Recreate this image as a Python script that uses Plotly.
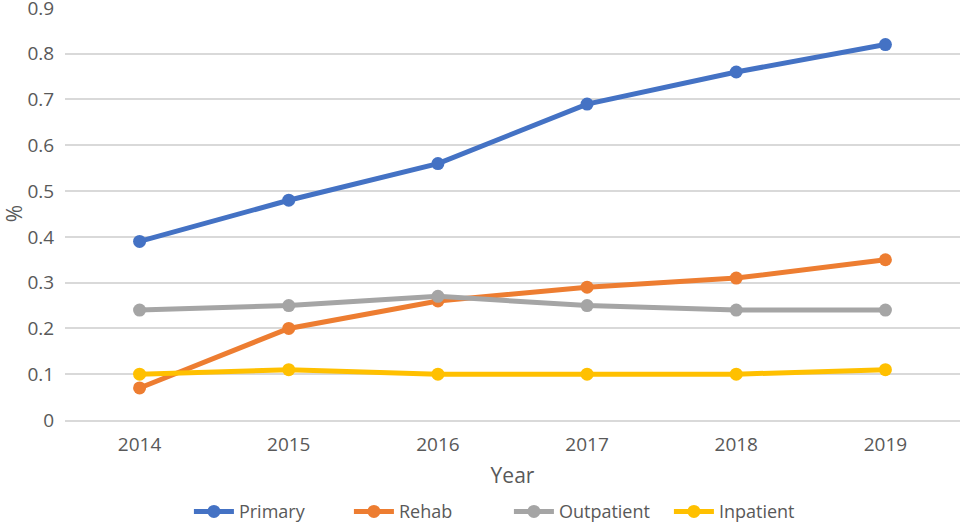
import plotly.graph_objects as go

years = [2014, 2015, 2016, 2017, 2018, 2019]
primary = [0.39, 0.48, 0.56, 0.69, 0.76, 0.82]
rehab = [0.07, 0.20, 0.26, 0.29, 0.31, 0.35]
outpatient = [0.24, 0.25, 0.27, 0.25, 0.24, 0.24]
inpatient = [0.10, 0.11, 0.10, 0.10, 0.10, 0.11]
y_ticks = [0, 0.1, 0.2, 0.3, 0.4, 0.5, 0.6, 0.7, 0.8, 0.9]
y_labels = ["0", "0.1", "0.2", "0.3", "0.4", "0.5", "0.6", "0.7", "0.8", "0.9"]

series = [("Primary", primary, "#4472C4"),
          ("Rehab", rehab, "#ED7D31"),
          ("Outpatient", outpatient, "#A5A5A5"),
          ("Inpatient", inpatient, "#FFC000")]

fig = go.Figure()
for name, vals, col in series:
    fig.add_trace(go.Scatter(x=years, y=vals, name=name, mode="lines+markers",
                             line=dict(color=col, width=5),
                             marker=dict(color=col, size=13), cliponaxis=False))

font = "Open Sans, Noto Sans, sans-serif"
fig.update_layout(
    width=963, height=523,
    margin=dict(l=65, r=3, t=7, b=103, autoexpand=False),
    plot_bgcolor="white", paper_bgcolor="white",
    font=dict(family=font, size=19, color="#595959"),
    showlegend=True,
    legend=dict(orientation="h", x=0.496, xanchor="center", y=-0.222, yanchor="middle",
                font=dict(size=18, color="#595959"), traceorder="normal", itemwidth=40,
                entrywidth=105, entrywidthmode="pixels"),
    xaxis=dict(range=[2013.5, 2019.5], tickvals=years, ticktext=[str(y) for y in years],
               showgrid=False, showline=True, linecolor="#D9D9D9", linewidth=1.5,
               ticks="outside", ticklen=6, tickcolor="rgba(0,0,0,0)", zeroline=False,
               tickfont=dict(size=19),
               title=dict(text="Year", font=dict(size=21, color="#595959"), standoff=13)),
    yaxis=dict(range=[0, 0.902], tickvals=y_ticks, ticktext=y_labels, showgrid=True,
               gridcolor="#D9D9D9", gridwidth=1.5, zeroline=False, showline=False,
               ticks="outside", ticklen=6, tickcolor="rgba(0,0,0,0)",
               tickfont=dict(size=19), ticklabeloverflow="allow",
               title=dict(text="%", font=dict(size=21, color="#595959"), standoff=10)),
)
fig.write_html("out.html", config={"displayModeBar": False},
               post_script="document.body.style.margin='0';")
